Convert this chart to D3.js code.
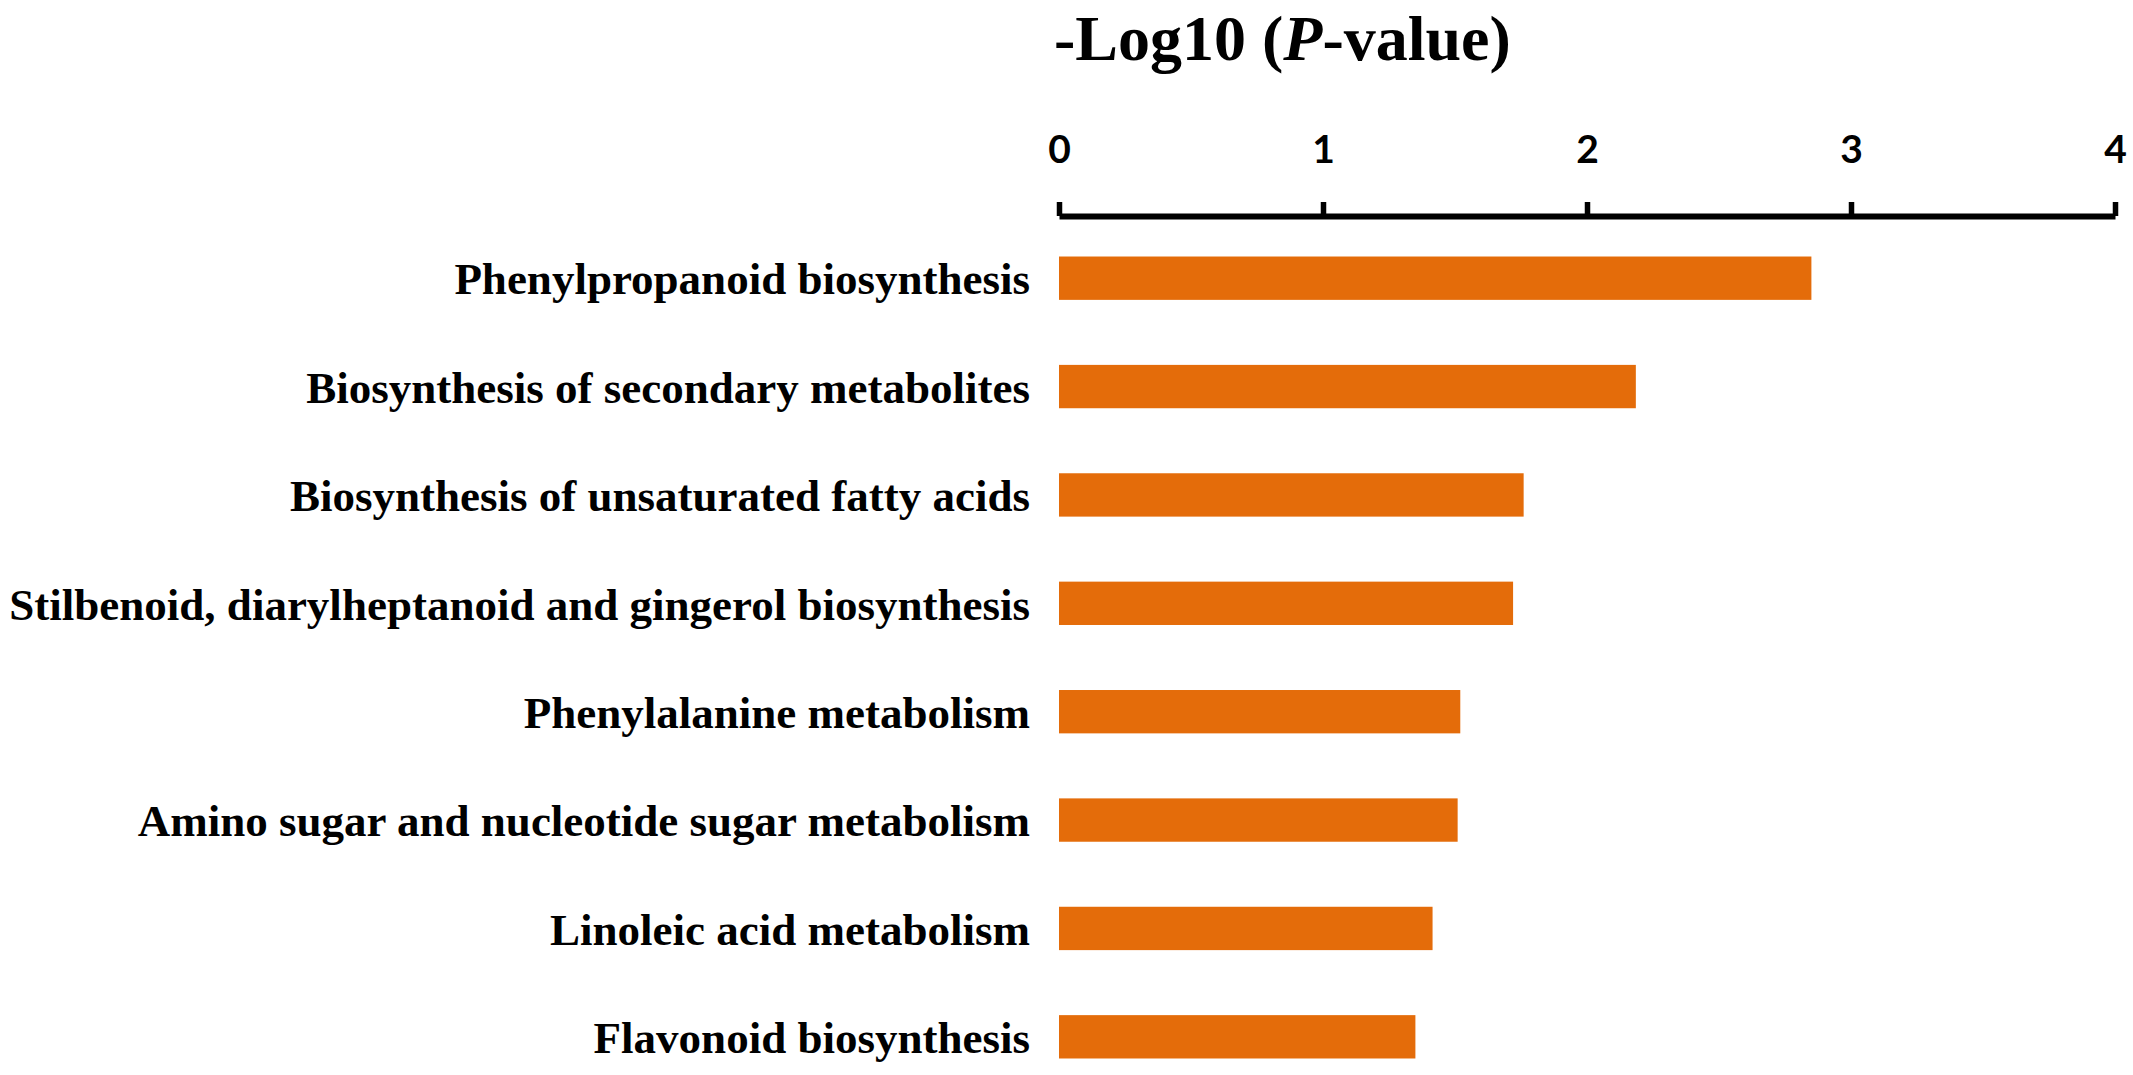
<!DOCTYPE html>
<html>
<head>
<meta charset="UTF-8">
<title>-Log10 (P-value)</title>
<style>
  body { margin: 0; background: #fff; }
  .cat { font-family: "Liberation Serif", "Times New Roman", serif; font-weight: bold; font-size: 45px; fill: #000; }
  .tick text { font-family: Lato, "Open Sans", sans-serif; font-weight: bold; font-size: 39px; fill: #000; }
  .title { font-family: "Liberation Serif", "Times New Roman", serif; font-weight: bold; font-size: 64px; fill: #000; }
</style>
</head>
<body>
<svg id="chart" width="2133" height="1075"></svg>
<script src="https://cdn.jsdelivr.net/npm/d3@7"></script>
<script>
// pathway names, top to bottom
var categories = [
  "Phenylpropanoid biosynthesis",
  "Biosynthesis of secondary metabolites",
  "Biosynthesis of unsaturated fatty acids",
  "Stilbenoid, diarylheptanoid and gingerol biosynthesis",
  "Phenylalanine metabolism",
  "Amino sugar and nucleotide sugar metabolism",
  "Linoleic acid metabolism",
  "Flavonoid biosynthesis"
];
// -log10(p)
var values = [2.85, 2.185, 1.76, 1.72, 1.52, 1.51, 1.415, 1.35];
var tickValues = [0, 1, 2, 3, 4];

var svg = d3.select("#chart");
var axisY = 216;

var x = d3.scaleLinear().domain([0, 4]).range([1059, 2115]);
var y = d3.scaleBand().domain(categories).range([224, 1091]).paddingInner(0.6).paddingOuter(0.3);

// bars
svg.append("g").selectAll("rect")
  .data(categories)
  .enter().append("rect")
  .attr("x", x(0))
  .attr("y", d => y(d))
  .attr("width", (d, i) => x(values[i]) - x(0))
  .attr("height", y.bandwidth())
  .attr("fill", "#E46C0A");

// category labels
svg.append("g").selectAll("text")
  .data(categories)
  .enter().append("text")
  .attr("class", "cat")
  .attr("x", 1030)
  .attr("y", d => y(d) + y.bandwidth() / 2)
  .attr("dy", "0.36em")
  .attr("text-anchor", "end")
  .text(d => d);

// top axis, ticks pointing up
var axis = d3.axisTop(x).tickValues(tickValues).tickFormat(d3.format("d")).tickSize(14).tickSizeOuter(0).tickPadding(39);
var ag = svg.append("g").attr("transform", "translate(0," + axisY + ")").call(axis);
ag.select(".domain").attr("stroke", "#000").attr("stroke-width", 6);
ag.selectAll(".tick line").attr("stroke", "#000").attr("stroke-width", 5.5);
ag.selectAll(".tick text").attr("dy", 0);

// title
var t = svg.append("text").attr("class", "title").attr("x", 1054).attr("y", 60);
t.append("tspan").text("-Log10 (");
t.append("tspan").attr("font-style", "italic").text("P");
t.append("tspan").text("-value)");
</script>
</body>
</html>
